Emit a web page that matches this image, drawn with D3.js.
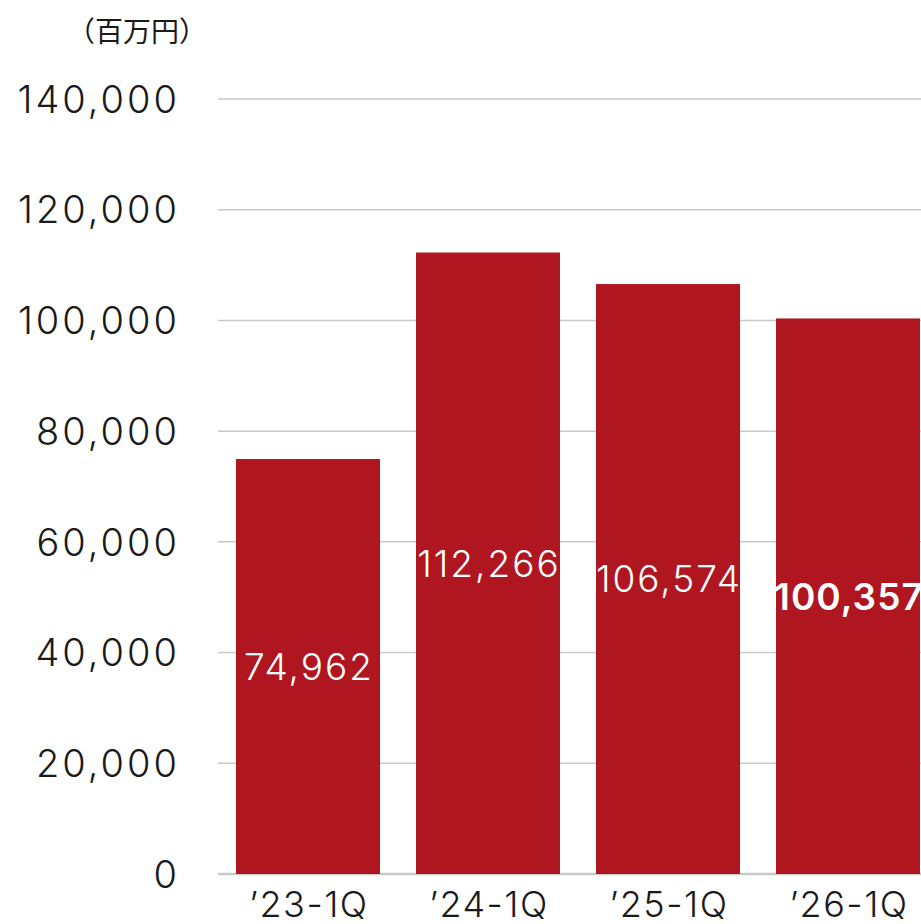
<!DOCTYPE html>
<html>
<head>
<meta charset="utf-8">
<script src="https://cdn.jsdelivr.net/npm/d3@7"></script>
<style>
  body { margin: 0; background: #fff; }
  svg { display: block; }
  text { font-family: Inter, "Noto Sans CJK JP", sans-serif; }
</style>
</head>
<body>
<script>
// chart data
var categories = ["’23-1Q", "’24-1Q", "’25-1Q", "’26-1Q"];
var values = [74962, 112266, 106574, 100357];
var yTicks = [0, 20000, 40000, 60000, 80000, 100000, 120000, 140000];
var unitLabel = "（百万円）";

var svgWidth = 921;
var svgHeight = 924;

var margin = { top: 99, right: -17, bottom: 50, left: 218 };
var chartWidth = svgWidth - margin.left - margin.right;
var chartHeight = svgHeight - margin.top - margin.bottom;

var svg = d3.select("body")
  .append("svg")
  .attr("width", svgWidth)
  .attr("height", svgHeight);

var chartGroup = svg.append("g")
  .attr("transform", `translate(${margin.left}, ${margin.top})`);

var xScale = d3.scaleBand()
  .domain(categories)
  .range([0, chartWidth])
  .paddingInner(0.2)
  .paddingOuter(0.1);

var yScale = d3.scaleLinear()
  .domain([0, 140000])
  .range([chartHeight, 0]);

// gridlines
chartGroup.selectAll(".grid")
  .data(yTicks)
  .enter()
  .append("line")
  .attr("x1", 0)
  .attr("x2", chartWidth)
  .attr("y1", d => yScale(d))
  .attr("y2", d => yScale(d))
  .attr("stroke", "#c9c9c9")
  .attr("stroke-width", d => d === 0 ? 2.5 : 1.5);

// y tick labels
chartGroup.selectAll(".ytick")
  .data(yTicks)
  .enter()
  .append("text")
  .attr("x", -38)
  .attr("y", d => yScale(d))
  .attr("dy", "0.36em")
  .attr("text-anchor", "end")
  .attr("font-size", 38)
  .attr("font-weight", 300)
  .attr("letter-spacing", 3)
  .attr("fill", "#1a1a1a")
  .text(d => d3.format(",")(d));

// bars
chartGroup.selectAll(".bar")
  .data(values)
  .enter()
  .append("rect")
  .attr("x", (d, i) => xScale(categories[i]))
  .attr("y", d => yScale(d))
  .attr("width", xScale.bandwidth())
  .attr("height", d => chartHeight - yScale(d))
  .attr("fill", "#b01620");

// value labels inside bars
chartGroup.selectAll(".val")
  .data(values)
  .enter()
  .append("text")
  .attr("x", (d, i) => xScale(categories[i]) + xScale.bandwidth() / 2 + 1)
  .attr("y", d => (yScale(d) + chartHeight) / 2)
  .attr("dy", "0.36em")
  .attr("text-anchor", "middle")
  .attr("font-size", 37)
  .attr("font-weight", (d, i) => i === values.length - 1 ? 600 : 300)
  .attr("letter-spacing", (d, i) => i === values.length - 1 ? 1 : 2)
  .attr("fill", "#fff")
  .text(d => d3.format(",")(d));

// category labels
chartGroup.selectAll(".xlab")
  .data(categories)
  .enter()
  .append("text")
  .attr("x", d => xScale(d) + xScale.bandwidth() / 2 + 1)
  .attr("y", chartHeight + 43)
  .attr("text-anchor", "middle")
  .attr("font-size", 36)
  .attr("font-weight", 300)
  .attr("letter-spacing", 1.5)
  .attr("fill", "#1a1a1a")
  .text(d => d);

// unit label
svg.append("text")
  .attr("x", 137)
  .attr("y", 42)
  .attr("text-anchor", "middle")
  .attr("font-size", 28)
  .attr("fill", "#1a1a1a")
  .style("font-family", "'Noto Sans CJK JP', sans-serif")
  .text(unitLabel);
</script>
</body>
</html>
